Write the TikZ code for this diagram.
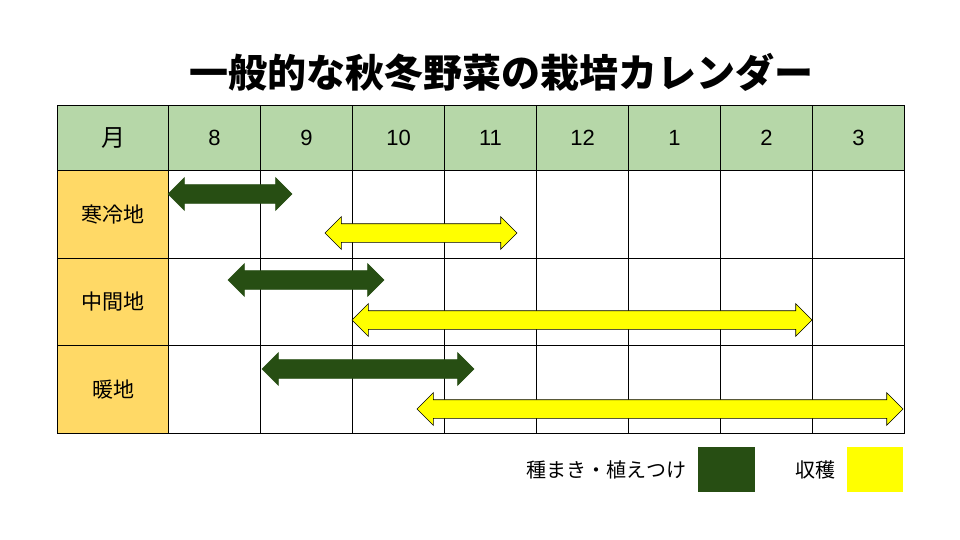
\documentclass[tikz,border=0pt]{standalone}
\usepackage{fontspec}
\setmainfont{Liberation Sans}
\newfontfamily\cjk{Noto Sans CJK JP}
\usetikzlibrary{positioning, shapes.arrows}
\definecolor{headgreen}{HTML}{B6D7A8}
\definecolor{sideorange}{HTML}{FFD966}
\definecolor{sowgreen}{HTML}{274E13}
\definecolor{harvyellow}{HTML}{FFFF00}

\tikzset{
	cell/.style={draw, line width=1pt, minimum width=92pt, minimum height=#1, inner sep=0pt, anchor=north west},
	dbl/.style={double arrow, draw=black, line width=0.6pt, inner sep=0pt, minimum width=32pt,
		double arrow head extend=7pt, double arrow tip angle=90, text width=0pt, text height=18pt},
	sow/.style={dbl, fill=sowgreen, draw=sowgreen},
	harvest/.style={dbl, fill=harvyellow},
}

\begin{document}
\begin{tikzpicture}[x=1pt, y=-1pt]

\useasboundingbox (0,0) rectangle (960,540);

\def \xc{92}

\node[font=\cjk\bfseries\fontsize{39}{39}\selectfont] (title) at (501, 72) {一般的な秋冬野菜の栽培カレンダー};

% header row
\node[cell=65pt, minimum width=111pt, fill=headgreen, font=\cjk\fontsize{24}{24}\selectfont] (hmonth) at (57, 105) {月};
\foreach \m [count=\i from 0] in {8, 9, 10, 11, 12, 1, 2, 3} {
	\node[cell=65pt, fill=headgreen, font=\fontsize{22}{22}\selectfont] (h\i) at (168+\i*\xc, 105) {\m};
}

% body rows
\foreach \r/\lab/\yy/\hh in {1/寒冷地/170/88pt, 2/中間地/258/87pt, 3/暖地/345/88pt} {
	\node[cell=\hh, minimum width=111pt, fill=sideorange, font=\cjk\fontsize{21}{21}\selectfont] (side\r) at (57, \yy) {\lab};
	\foreach \i in {0,...,7} {
		\node[cell=\hh] (c\r\i) at (168+\i*\xc, \yy) {};
	}
}

% arrows
\node[sow, minimum height=124pt] (sow1) at (230, 194) {};
\node[harvest, minimum height=192pt] (har1) at (421, 233) {};
\node[sow, minimum height=156pt] (sow2) at (306, 280) {};
\node[harvest, minimum height=460pt] (har2) at (582, 320) {};
\node[sow, minimum height=212pt] (sow3) at (368, 369) {};
\node[harvest, minimum height=486pt] (har3) at (660, 409) {};

% legend
\node[fill=sowgreen, minimum width=57pt, minimum height=45pt, inner sep=0pt] (legsow) at (726.5, 469.5) {};
\node[left=8pt of legsow, font=\cjk\fontsize{20}{20}\selectfont] (legsowtxt) {種まき・植えつけ};
\node[fill=harvyellow, minimum width=56pt, minimum height=45pt, inner sep=0pt] (leghar) at (875, 469.5) {};
\node[left=8pt of leghar, font=\cjk\fontsize{20}{20}\selectfont] (leghartxt) {収穫};

\end{tikzpicture}
\end{document}
